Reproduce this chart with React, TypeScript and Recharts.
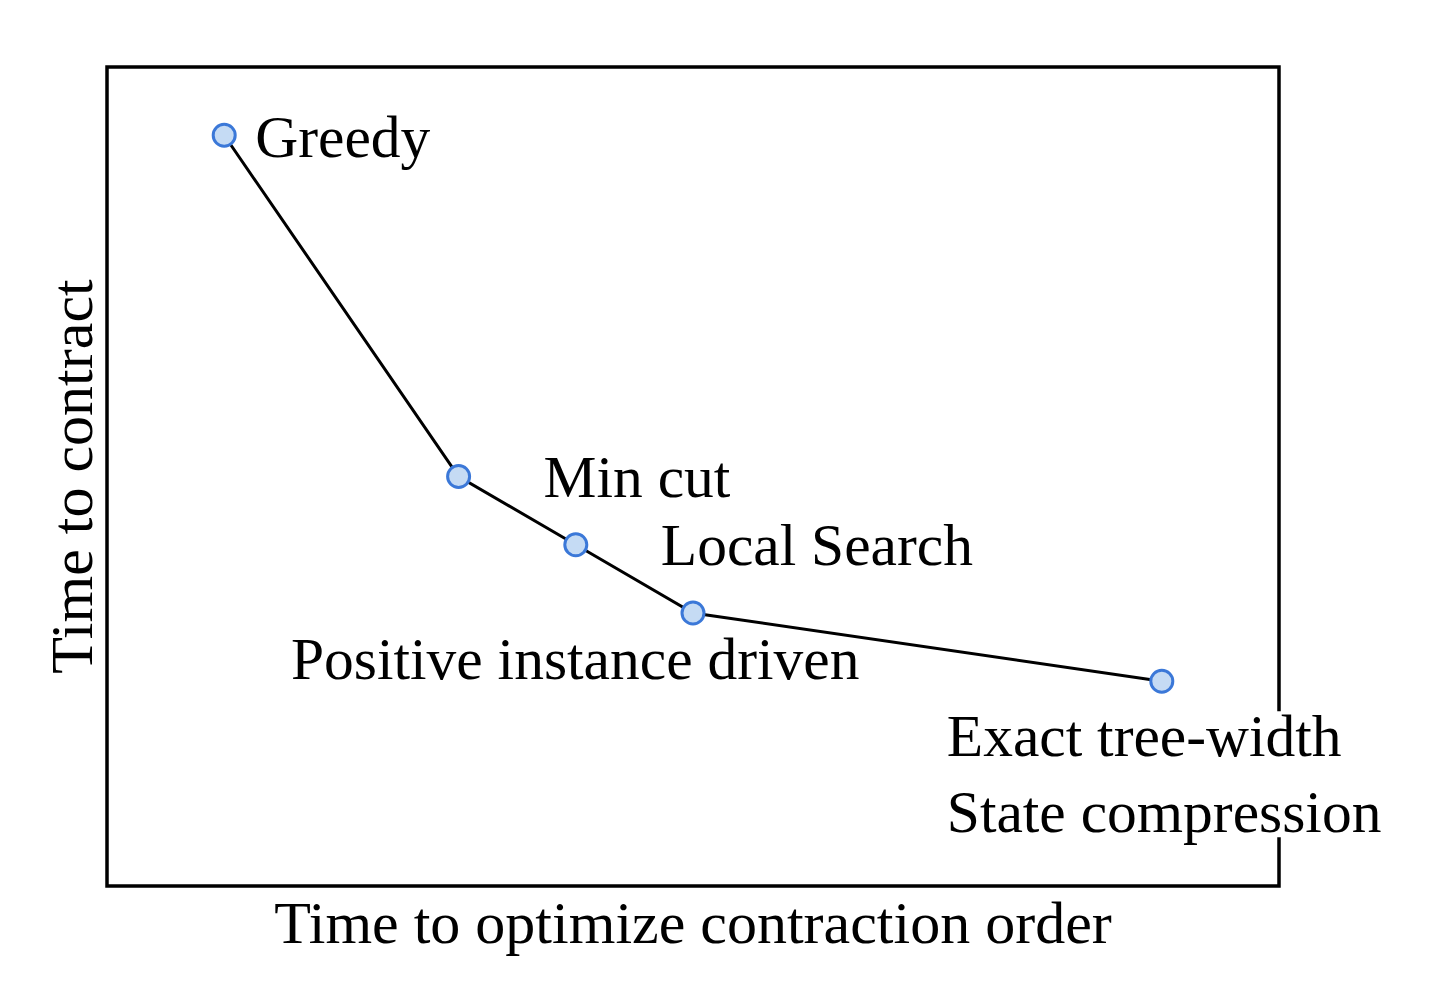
import React from 'react';
import {
  ComposedChart,
  Line,
  XAxis,
  YAxis,
  ReferenceArea,
  LabelList,
} from 'recharts';

// ---- Data ----
const METHODS = [
  'Greedy',
  'Min cut',
  'Local Search',
  'Positive instance driven',
  'Exact tree-width\nState compression',
];
const OPTIMIZE_TIME = [1, 3, 4, 5, 9];
const CONTRACT_TIME = [11, 6, 5, 4, 3];
const X_DOMAIN: [number, number] = [0, 10];
const Y_DOMAIN: [number, number] = [0, 12];
const X_TITLE = 'Time to optimize contraction order';
const Y_TITLE = 'Time to contract';

const data = METHODS.map((name, i) => ({
  name,
  x: OPTIMIZE_TIME[i],
  y: CONTRACT_TIME[i],
}));

// ---- Styling / layout ----
const FONT = '"Liberation Serif", "Times New Roman", serif';
const LABEL_SIZE = 59.5;
const LINE_GAP = 76;
const LABEL_PLACEMENT = [
  { dx: 31, dy: 22, bg: false },
  { dx: 85, dy: 20, bg: false },
  { dx: 85, dy: 20, bg: false },
  { dx: -402, dy: 66, bg: false },
  { dx: -215, dy: 75, bg: true },
];

const Dot = (props: any) => {
  const { cx, cy } = props;
  if (cx == null || cy == null) return null;
  return (
    <circle cx={cx} cy={cy} r={11} fill="#c5dbf4" stroke="#3b78d8" strokeWidth={3} />
  );
};

const PointLabel = (props: any) => {
  const { x, y, index, value } = props;
  const p = LABEL_PLACEMENT[index];
  if (!p || x == null || y == null) return null;
  const lines = String(value).split('\n');
  const tx = x + p.dx;
  const ty = y + p.dy;
  return (
    <g>
      {p.bg && (
        <rect
          x={tx - 6}
          y={ty - 45}
          width={450}
          height={(lines.length - 1) * LINE_GAP + 50}
          fill="#ffffff"
        />
      )}
      <text x={tx} y={ty} fontFamily={FONT} fontSize={LABEL_SIZE} fill="#000" textAnchor="start">
        {lines.map((l, i) => (
          <tspan key={i} x={tx} y={ty + i * LINE_GAP}>
            {l}
          </tspan>
        ))}
      </text>
    </g>
  );
};

export default function App() {
  return (
    <div style={{ width: 1414, height: 990, background: '#fff' }}>
      <ComposedChart
        width={1414}
        height={990}
        data={data}
        margin={{ top: 59, right: 143, bottom: 52, left: 39 }}
      >
        <XAxis
          dataKey="x"
          type="number"
          domain={X_DOMAIN}
          allowDataOverflow
          tick={false}
          tickLine={false}
          axisLine={false}
          height={60}
          label={{
            value: X_TITLE,
            position: 'insideBottom',
            offset: 3,
            style: { fontFamily: FONT, fontSize: 60, fill: '#000' },
          }}
        />
        <YAxis
          dataKey="y"
          type="number"
          domain={Y_DOMAIN}
          allowDataOverflow
          tick={false}
          tickLine={false}
          axisLine={false}
          width={60}
          label={{
            value: Y_TITLE,
            angle: -90,
            position: 'insideLeft',
            offset: 24,
            style: { fontFamily: FONT, fontSize: 60, fill: '#000', textAnchor: 'middle' },
          }}
        />
        <ReferenceArea
          x1={X_DOMAIN[0]}
          x2={X_DOMAIN[1]}
          y1={Y_DOMAIN[0]}
          y2={Y_DOMAIN[1]}
          fill="none"
          fillOpacity={0}
          stroke="#000"
          strokeWidth={3.5}
          ifOverflow="visible"
        />
        <Line
          dataKey="y"
          type="linear"
          stroke="#000"
          strokeWidth={3}
          dot={<Dot />}
          activeDot={false}
          isAnimationActive={false}
        >
          <LabelList dataKey="name" content={<PointLabel />} />
        </Line>
      </ComposedChart>
    </div>
  );
}
